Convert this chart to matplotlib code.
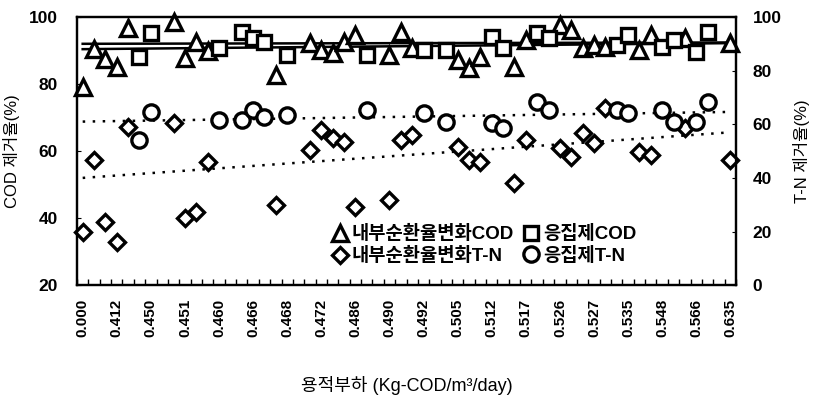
import numpy as np
import matplotlib
matplotlib.use('Agg')
import matplotlib.pyplot as plt

plt.rcParams['font.family'] = ['Liberation Sans', 'Noto Sans CJK KR', 'DejaVu Sans']

n_cat = 58
load_labels = ['0.000', '0.412', '0.450', '0.451', '0.460', '0.466', '0.468',
               '0.472', '0.486', '0.490', '0.492', '0.505', '0.512', '0.517',
               '0.526', '0.527', '0.535', '0.548', '0.566', '0.635']

# internal recirculation change runs: category index, COD (%), T-N (%)
rec_idx = [0, 1, 2, 3, 4, 8, 9, 10, 11, 17, 20, 21, 22, 23, 24, 27, 28, 29,
           33, 34, 35, 38, 39, 42, 43, 44, 45, 46, 49, 50, 53, 57]
rec_cod = [79.1, 90.4, 87.5, 85.1, 96.7, 98.5, 87.8, 92.5, 90.0, 82.7, 92.2,
           90.1, 89.3, 92.5, 94.6, 88.7, 95.5, 90.7, 87.2, 84.8, 88.1, 85.1,
           93.1, 97.6, 96.1, 90.7, 91.6, 91.0, 90.1, 94.6, 93.7, 92.2]
rec_tn = [19.8, 46.6, 23.5, 16.0, 59.0, 60.4, 25.0, 27.2, 45.9, 29.9, 50.4,
          57.8, 54.9, 53.4, 29.1, 31.7, 54.1, 56.0, 51.5, 46.6, 45.9, 38.1,
          54.1, 51.1, 47.8, 56.7, 53.0, 66.0, 49.6, 48.5, 58.6, 46.6]

# coagulant runs
coa_idx = [5, 6, 12, 14, 15, 16, 18, 25, 30, 32, 36, 37, 40, 41, 47, 48, 51,
           52, 54, 55]
coa_cod = [88.1, 95.2, 90.7, 95.5, 93.7, 92.5, 88.7, 88.7, 90.1, 90.1, 94.0,
           90.7, 95.2, 93.7, 91.6, 94.6, 91.0, 93.1, 89.6, 95.5]
coa_tn = [54.1, 64.6, 61.6, 61.6, 65.3, 62.7, 63.4, 65.3, 64.2, 60.8, 60.4,
          58.6, 68.3, 65.3, 65.3, 64.2, 65.3, 60.8, 60.8, 68.3]

# trend lines as drawn in the figure (start, end values)
trend_rec_cod = [90.4, 92.2]
trend_coa_cod = [92.0, 92.4]
trend_rec_tn = [40.0, 57.0]
trend_coa_tn = [61.0, 64.6]

fig = plt.figure(figsize=(8.14, 3.95), dpi=100)
ax = fig.add_axes([0.0946, 0.278, 0.8096, 0.679])
ax2 = ax.twinx()

xs = [0, n_cat - 1]
ax.plot(xs, trend_rec_cod, color='black', lw=1.8, zorder=1)
ax.plot(xs, trend_coa_cod, color='black', lw=1.8, zorder=1)
ax2.plot(xs, trend_rec_tn, color='black', ls=(0, (1, 3)), lw=1.8, zorder=1)
ax2.plot(xs, trend_coa_tn, color='black', ls=(0, (1, 3)), lw=1.8, zorder=1)

mk = dict(ls='none', mfc='white', mec='black', mew=2.4, clip_on=False)
h1, = ax.plot(rec_idx, rec_cod, marker='^', ms=11, label='내부순환율변화COD', **mk)
h3, = ax.plot(coa_idx, coa_cod, marker='s', ms=10, label='응집제COD', **mk)
h2, = ax2.plot(rec_idx, rec_tn, marker='D', ms=8.5, label='내부순환율변화T-N', **mk)
h4, = ax2.plot(coa_idx, coa_tn, marker='o', ms=11, label='응집제T-N', **mk)

ax.set_xlim(-0.5, n_cat - 0.5)
ax.set_ylim(20, 100)
ax2.set_ylim(0, 100)
ax.set_yticks([20, 40, 60, 80, 100])
ax2.set_yticks([0, 20, 40, 60, 80, 100])
ax.set_xticks(np.arange(0, n_cat, 3))
ax.set_xticklabels(load_labels, rotation=90, fontweight='bold')
ax.set_xticks(np.arange(n_cat + 1) - 0.5, minor=True)
ax.tick_params(axis='x', which='major', length=0, labelsize=11, pad=10)
ax.tick_params(axis='x', which='minor', direction='in', length=4, width=1)
ax.tick_params(axis='y', direction='in', length=3, labelsize=12.5, pad=14)
ax2.tick_params(axis='y', direction='in', length=3, labelsize=12.5, pad=12)
for lab in ax.get_yticklabels() + ax2.get_yticklabels():
    lab.set_fontweight('bold')
for a in (ax, ax2):
    for s in a.spines.values():
        s.set_linewidth(1.6)

ax.set_ylabel('COD 제거율(%)', fontsize=12, labelpad=6)
ax2.set_ylabel('T-N 제거율(%)', fontsize=12, labelpad=8)
ax.set_xlabel('용적부하 (Kg-COD/m³/day)', fontsize=13, labelpad=28)

ax2.legend(handles=[h1, h2, h3, h4], ncol=2, frameon=False,
           prop=dict(size=13.5, weight='bold'),
           loc='lower left', bbox_to_anchor=(0.37, 0.04), handletextpad=0.15,
           columnspacing=0.4, labelspacing=0.2, borderpad=0, handlelength=1.0)

fig.savefig('out.png', dpi=100)
